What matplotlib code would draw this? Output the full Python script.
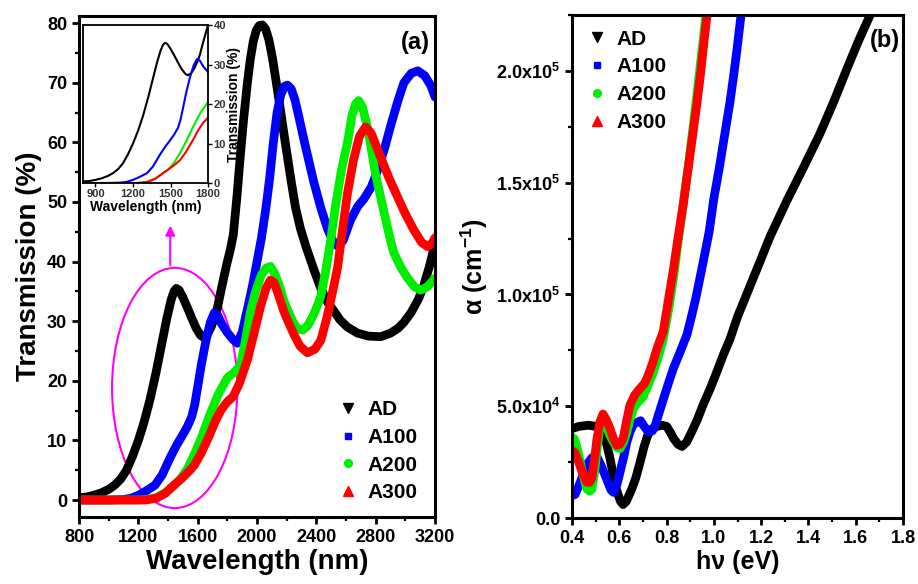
import numpy as np
import matplotlib
matplotlib.use("Agg")
import matplotlib.pyplot as plt
from matplotlib.patches import Ellipse
from matplotlib.lines import Line2D
from matplotlib.ticker import MultipleLocator, FixedLocator, FixedFormatter

plt.rcParams["font.family"] = ["Liberation Sans", "DejaVu Sans"]
plt.rcParams["font.weight"] = "bold"
plt.rcParams["mathtext.default"] = "regular"

# ---- panel (a): transmission (%) vs wavelength (nm) ----
wl_ad = [800, 850, 900, 950, 1000, 1040, 1080, 1120, 1160, 1200, 1240, 1280, 1320, 1360,
         1392, 1420, 1440, 1456, 1475, 1500, 1530, 1560, 1590, 1620, 1640, 1665, 1690,
         1712, 1735, 1760, 1780, 1800, 1820, 1840, 1865, 1888, 1910, 1935, 1955, 1975,
         1995, 2015, 2036, 2058, 2080, 2105, 2130, 2158, 2190, 2230, 2260, 2293, 2330,
         2381, 2430, 2480, 2516, 2560, 2610, 2678, 2750, 2834, 2900, 2950, 2990, 3040,
         3090, 3124, 3160, 3200]
t_ad = [0.4, 0.5, 0.8, 1.2, 1.8, 2.5, 3.5, 5.0, 7.3, 10, 13.2, 17, 21.5, 26.5,
        30.5, 33.5, 35, 35.5, 35.2, 34, 32.3, 30.5, 28.8, 27.6, 27.3, 27.8, 29,
        30.5, 32.5, 35.5, 37.8, 40, 42, 44.5, 51, 58, 64, 70, 74, 77,
        78.8, 79.6, 79.7, 79, 77.2, 74, 70, 65.4, 60, 53.5, 49, 45.5, 42.5,
        38.8, 35.5, 33, 31.8, 30.2, 29, 28, 27.5, 27.4, 28, 28.8, 29.8, 31.5,
        33.8, 36, 39, 43]

wl_a100 = [800, 1000, 1100, 1150, 1200, 1250, 1312, 1360, 1416, 1460, 1496, 1530, 1560,
           1580, 1600, 1625, 1656, 1685, 1712, 1735, 1760, 1800, 1835, 1868, 1900, 1935,
           1970, 2000, 2030, 2060, 2085, 2110, 2135, 2160, 2185, 2205, 2230, 2255, 2280,
           2320, 2381, 2430, 2475, 2510, 2543, 2580, 2631, 2680, 2720, 2770, 2814, 2860,
           2901, 2950, 2990, 3040, 3084, 3130, 3172, 3200]
t_a100 = [0, 0, 0.1, 0.3, 0.8, 1.5, 2.5, 4.2, 7.2, 9.3, 10.8, 12.3, 14,
          16, 19, 22.8, 26.8, 29.8, 31.4, 31, 29.6, 28.1, 27, 26.3, 28.2, 32,
          36, 40, 44, 49, 54, 60, 65, 68, 69.4, 69.6, 69, 67.2, 64.5,
          60, 53.5, 49, 45.5, 43.5, 42.6, 43.5, 47, 49.3, 50.5, 52.5, 55.4, 59,
          62.8, 67, 70, 71.6, 72, 71.2, 69.5, 67.6]

wl_a200 = [800, 1200, 1260, 1320, 1380, 1430, 1480, 1530, 1580, 1630, 1680, 1740, 1800,
           1850, 1888, 1920, 1955, 1990, 2030, 2060, 2090, 2120, 2150, 2180, 2205, 2240,
           2270, 2307, 2340, 2380, 2428, 2460, 2496, 2530, 2570, 2610, 2640, 2665, 2685,
           2710, 2740, 2766, 2800, 2854, 2900, 2922, 2970, 3016, 3060, 3104, 3150, 3200]
t_a200 = [0, 0, 0.1, 0.4, 1.2, 2.2, 3.4, 5.2, 7.8, 10.8, 14.2, 17.8, 20.5,
          21.5, 22.6, 26.5, 31.5, 35, 37.8, 38.9, 39.2, 38, 36, 33.5, 32, 30,
          28.8, 28.5, 29.2, 31, 34, 38, 43.5, 49.5, 55.5, 60, 64.5, 66.5, 67,
          66, 63, 59.5, 54.5, 48.5, 43.5, 41.5, 39, 37.2, 35.8, 35.2, 35.8, 37.2]

wl_a300 = [800, 1250, 1320, 1380, 1440, 1500, 1540, 1576, 1620, 1680, 1720, 1760, 1800,
           1840, 1880, 1935, 1980, 2023, 2060, 2090, 2115, 2150, 2180, 2205, 2250, 2290,
           2340, 2390, 2430, 2470, 2510, 2543, 2580, 2610, 2650, 2690, 2732, 2770, 2834,
           2890, 2948, 3000, 3057, 3110, 3151, 3180, 3200]
t_a300 = [0, 0, 0.3, 1.1, 2.5, 3.8, 4.8, 5.8, 7.7, 10.9, 13.3, 15.2, 16.5,
          17.4, 19.5, 23.5, 28, 32.4, 35.5, 36.9, 36.5, 34, 31.7, 30.2, 27.7, 25.8,
          24.7, 25.3, 26.8, 30.5, 35, 39, 46, 51.5, 57, 61, 62.6, 61.5, 57.5,
          54, 50.8, 48, 45.3, 43.2, 42.5, 43.1, 44]

# ---- panel (b): absorption coefficient (x1e4 cm^-1) vs photon energy (eV) ----
e_ad = [0.40, 0.43, 0.47, 0.50, 0.52, 0.54, 0.56, 0.575, 0.59, 0.605, 0.616, 0.63, 0.653,
        0.67, 0.688, 0.705, 0.72, 0.74, 0.76, 0.78, 0.80, 0.815, 0.83, 0.848, 0.865,
        0.885, 0.906, 0.93, 0.954, 0.985, 1.013, 1.04, 1.068, 1.10, 1.15, 1.20, 1.238,
        1.309, 1.38, 1.449, 1.51, 1.563, 1.61, 1.661, 1.68]
a_ad = [4.0, 4.1, 4.15, 4.1, 4.0, 3.6, 2.7, 1.9, 1.2, 0.75, 0.6, 0.75, 1.3,
        1.8, 2.5, 3.2, 3.7, 4.0, 4.1, 4.15, 4.1, 3.85, 3.55, 3.3, 3.2,
        3.4, 3.85, 4.4, 5.05, 5.8, 6.55, 7.3, 8.0, 9.0, 10.3, 11.6, 12.6,
        14.2, 15.7, 17.2, 18.7, 20.1, 21.3, 22.5, 23.0]

e_a100 = [0.40, 0.413, 0.435, 0.463, 0.485, 0.505, 0.525, 0.548, 0.565, 0.575, 0.59, 0.603,
          0.618, 0.632, 0.645, 0.66, 0.69, 0.705, 0.723, 0.74, 0.751, 0.765, 0.786, 0.81,
          0.829, 0.86, 0.886, 0.905, 0.925, 0.95, 0.98, 1.0, 1.022, 1.045, 1.068, 1.085,
          1.097, 1.115, 1.12]
a_a100 = [1.0, 1.05, 1.6, 2.4, 2.7, 2.75, 2.3, 1.7, 1.25, 1.15, 1.5, 2.05,
          2.7, 3.4, 3.85, 4.2, 4.35, 4.1, 3.85, 3.9, 4.1, 4.6, 5.3, 6.1,
          6.7, 7.5, 8.2, 9.0, 9.9, 11.2, 12.8, 14.3, 15.6, 17.1, 18.6, 19.9,
          20.9, 22.5, 23.0]

e_a200 = [0.40, 0.41, 0.425, 0.445, 0.463, 0.475, 0.484, 0.495, 0.505, 0.518, 0.531, 0.545,
          0.56, 0.575, 0.59, 0.603, 0.618, 0.632, 0.645, 0.66, 0.68, 0.70, 0.72, 0.74,
          0.765, 0.786, 0.81, 0.83, 0.848, 0.87, 0.891, 0.91, 0.929, 0.945, 0.954, 0.966,
          0.97]
a_a200 = [3.6, 3.55, 3.0, 2.0, 1.3, 1.2, 1.3, 2.0, 3.0, 4.1, 4.45, 4.1,
          3.7, 3.4, 3.15, 3.1, 3.4, 3.85, 4.4, 4.9, 5.2, 5.4, 5.9, 6.4,
          7.2, 8.0, 9.4, 10.8, 12.3, 14.0, 15.7, 17.3, 19.0, 20.5, 21.3, 22.5,
          23.0]

e_a300 = [0.40, 0.41, 0.425, 0.445, 0.463, 0.475, 0.484, 0.495, 0.505, 0.518, 0.531, 0.545,
          0.561, 0.575, 0.59, 0.603, 0.616, 0.63, 0.645, 0.665, 0.688, 0.705, 0.717, 0.74,
          0.76, 0.786, 0.81, 0.83, 0.848, 0.87, 0.891, 0.91, 0.929, 0.945, 0.954, 0.971,
          0.975]
a_a300 = [3.0, 2.95, 2.6, 2.0, 1.6, 1.6, 1.8, 2.6, 3.5, 4.3, 4.65, 4.4,
          4.0, 3.55, 3.25, 3.3, 3.55, 4.3, 5.05, 5.5, 5.8, 6.0, 6.25, 6.9,
          7.6, 8.35, 9.9, 11.2, 12.5, 14.0, 15.6, 17.1, 18.6, 20.0, 20.9, 22.5,
          23.0]

labels = ["AD", "A100", "A200", "A300"]
colors = ["black", "#0000FF", "#00EE00", "#FF0000"]
markers = ["v", "s", "o", "^"]
msizes = [7, 4.5, 5.5, 7]

fig = plt.figure(figsize=(9.18, 5.84), dpi=100)
ax1 = fig.add_axes([0.0861, 0.1147, 0.3878, 0.8579])
ax2 = fig.add_axes([0.6231, 0.1130, 0.3606, 0.8613])
axin = fig.add_axes([0.0904, 0.6866, 0.1362, 0.2705])

series_a = [(wl_ad, t_ad), (wl_a100, t_a100), (wl_a200, t_a200), (wl_a300, t_a300)]
series_b = [(e_ad, a_ad), (e_a100, a_a100), (e_a200, a_a200), (e_a300, a_a300)]

for (x, y), c in zip(series_a, colors):
    ax1.plot(x, y, color=c, lw=6.3, solid_joinstyle="round", solid_capstyle="round")
    axin.plot(x, y, color=c, lw=1.5)

for (x, y), c in zip(series_b, colors):
    ax2.plot(x, np.array(y) * 1e4, color=c, lw=6.3, solid_joinstyle="round",
             solid_capstyle="round")


def style_axes(ax, lw=2.2):
    for s in ax.spines.values():
        s.set_linewidth(lw)
    ax.tick_params(which="major", direction="out", length=5, width=2, labelsize=13,
                   top=False, right=False)
    ax.tick_params(which="minor", direction="out", length=3, width=1.6,
                   top=False, right=False)


# panel (a)
ax1.set_xlim(800, 3200)
ax1.set_ylim(-2.85, 81.2)
ax1.xaxis.set_major_locator(MultipleLocator(400))
ax1.xaxis.set_minor_locator(MultipleLocator(200))
ax1.yaxis.set_major_locator(MultipleLocator(10))
ax1.yaxis.set_minor_locator(MultipleLocator(5))
style_axes(ax1)
ax1.set_xlabel("Wavelength (nm)", fontsize=20, fontweight="bold", labelpad=2)
ax1.set_ylabel("Transmission (%)", fontsize=20, fontweight="bold", labelpad=4)
ax1.text(0.944, 0.948, "(a)", transform=ax1.transAxes, fontsize=17,
         fontweight="bold", ha="center", va="center")

ell = Ellipse((1445, 18.8), 845, 40.3, fill=False, edgecolor="magenta", lw=1.5)
ax1.add_patch(ell)
ax1.annotate("", xy=(1415, 46.5), xytext=(1415, 38.9),
             arrowprops=dict(arrowstyle="-|>", color="magenta", lw=1.5,
                             mutation_scale=14))

handles = [Line2D([], [], ls="none", marker=m, color=c, ms=s)
           for m, c, s in zip(markers, colors, msizes)]
ax1.legend(handles, labels, loc="lower left", bbox_to_anchor=(0.685, 0.0),
           frameon=False, prop=dict(size=15, weight="bold"), handlelength=1.0,
           handletextpad=0.45, labelspacing=0.42, borderpad=0.2)

# inset
axin.set_xlim(800, 1800)
axin.set_ylim(0, 40)
axin.xaxis.set_major_locator(FixedLocator([900, 1200, 1500, 1800]))
axin.yaxis.set_major_locator(MultipleLocator(10))
for s in axin.spines.values():
    s.set_linewidth(1.3)
axin.tick_params(direction="out", length=3, width=1, labelsize=8, pad=1,
                 left=False, labelleft=False, right=True, labelright=True,
                 labelcolor="#333333")
axin.yaxis.set_label_position("right")
axin.set_ylabel("Transmission (%)", fontsize=10, fontweight="bold", labelpad=1)
axin.set_xlabel("Wavelength (nm)", fontsize=10, fontweight="bold", labelpad=1)

# panel (b)
ax2.set_xlim(0.4, 1.8)
ax2.set_ylim(0, 2.25e5)
ax2.xaxis.set_major_locator(MultipleLocator(0.2))
ax2.xaxis.set_minor_locator(MultipleLocator(0.1))
yt = [0, 5e4, 1e5, 1.5e5, 2e5]
ax2.yaxis.set_major_locator(FixedLocator(yt))
ax2.yaxis.set_major_formatter(FixedFormatter(
    ["0.0", "5.0x10$^{4}$", "1.0x10$^{5}$", "1.5x10$^{5}$", "2.0x10$^{5}$"]))
ax2.yaxis.set_minor_locator(MultipleLocator(2.5e4))
style_axes(ax2)
ax2.set_xlabel("hν (eV)", fontsize=18, fontweight="bold", labelpad=2)
ax2.set_ylabel("α (cm$^{-1}$)", fontsize=18, fontweight="bold", labelpad=4)
ax2.text(0.946, 0.950, "(b)", transform=ax2.transAxes, fontsize=17,
         fontweight="bold", ha="center", va="center")
ax2.legend(handles, labels, loc="upper left", bbox_to_anchor=(0.0, 1.0),
           frameon=False, prop=dict(size=15, weight="bold"), handlelength=1.0,
           handletextpad=0.45, labelspacing=0.42, borderpad=0.2)

fig.savefig("out.png", dpi=100)
